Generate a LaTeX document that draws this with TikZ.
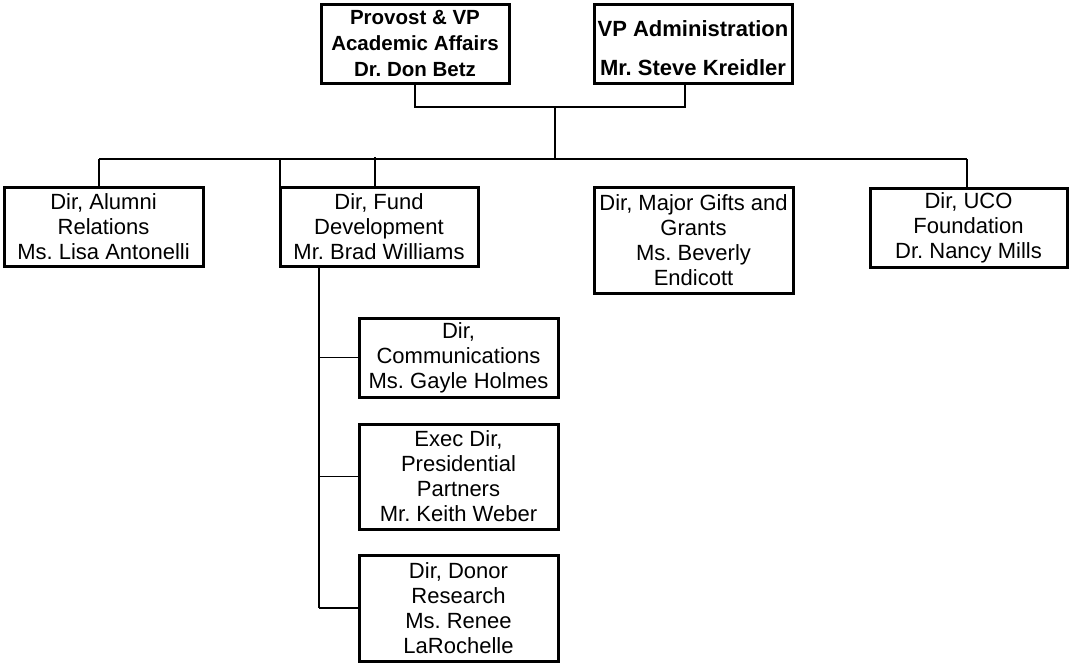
\documentclass[tikz,border=0pt]{standalone}
\usepackage{fontspec}
\setmainfont{Liberation Sans}
\frenchspacing
\begin{document}
\begin{tikzpicture}[x=1pt,y=-1pt,
  box/.style={draw, line width=3pt, inner sep=0pt, align=center,
    font=\fontsize{22}{25}\selectfont},
  bbox/.style={box, font=\fontsize{20.5}{26}\selectfont\bfseries},
  conn/.style={line width=1.3pt},
  thickconn/.style={line width=2.6pt}]
\useasboundingbox (0,0) rectangle (1069,662);
\fill[white] (0,0) rectangle (1069,662);

% top boxes
\node[bbox, minimum width=188pt, minimum height=79pt] (prov) at (415,43.5)
  {Provost \& VP\\Academic Affairs\\Dr. Don Betz};
\node[bbox, minimum width=198pt, minimum height=79pt,
  font=\fontsize{22}{39}\selectfont\bfseries] (vp) at (693,43.5)
  {\rule{0pt}{26pt}VP Administration\\Mr. Steve Kreidler};

% second row
\node[box, minimum width=199pt, minimum height=79pt] (alumni) at (103.5,226.5)
  {Dir, Alumni\\Relations\\Ms. Lisa Antonelli};
\node[box, minimum width=198pt, minimum height=79pt] (fund) at (379,226.5)
  {Dir, Fund\\Development\\Mr. Brad Williams};
\node[box, minimum width=199pt, minimum height=106pt] (gifts) at (693.5,240)
  {Dir, Major Gifts and\\Grants\\Ms. Beverly\\Endicott};
\node[box, minimum width=197pt, minimum height=79pt] (uco) at (968.5,227.5)
  {Dir, UCO\\Foundation\\Dr. Nancy Mills};

% under fund development
\node[box, minimum width=199pt, minimum height=79pt] (comm) at (458.5,357.5)
  {Dir,\\Communications\\Ms. Gayle Holmes};
\node[box, minimum width=199pt, minimum height=105pt] (exec) at (458.5,476.5)
  {Exec Dir,\\Presidential\\Partners\\Mr. Keith Weber};
\node[box, minimum width=199pt, minimum height=106pt] (donor) at (458.5,608)
  {Dir, Donor\\Research\\Ms. Renee\\LaRochelle};

% junctions
\coordinate (vpfoot) at (685,83);
\coordinate (tj) at (555,107);
\coordinate (bj) at (555,159);
\coordinate (busL) at (99,159);
\coordinate (busR) at (967,159);
\coordinate (fd1) at (280,159);
\coordinate (fd2) at (375,157);
\coordinate (fvx) at (319,266);

% connectors
\draw[conn] (prov.south) |- (tj);
\draw[conn] (vpfoot) |- (tj);
\draw[conn] (tj) -- (bj);
\draw[conn] (busL) -- (busR);
\draw[conn] (busL) -- (busL |- alumni.north);
\draw[conn] (fd1) -- (fd1 |- fund.north);
\draw[thickconn] (fd2) -- (fd2 |- fund.north);
\draw[conn] (busR) -- (busR |- uco.north);
\draw[conn] (fvx) -- (fvx |- donor.west);
\draw[conn] (fvx |- comm.west) -- (comm.west);
\draw[conn] (fvx |- exec.west) -- (exec.west);
\draw[conn] (fvx |- donor.west) -- (donor.west);
\end{tikzpicture}
\end{document}
